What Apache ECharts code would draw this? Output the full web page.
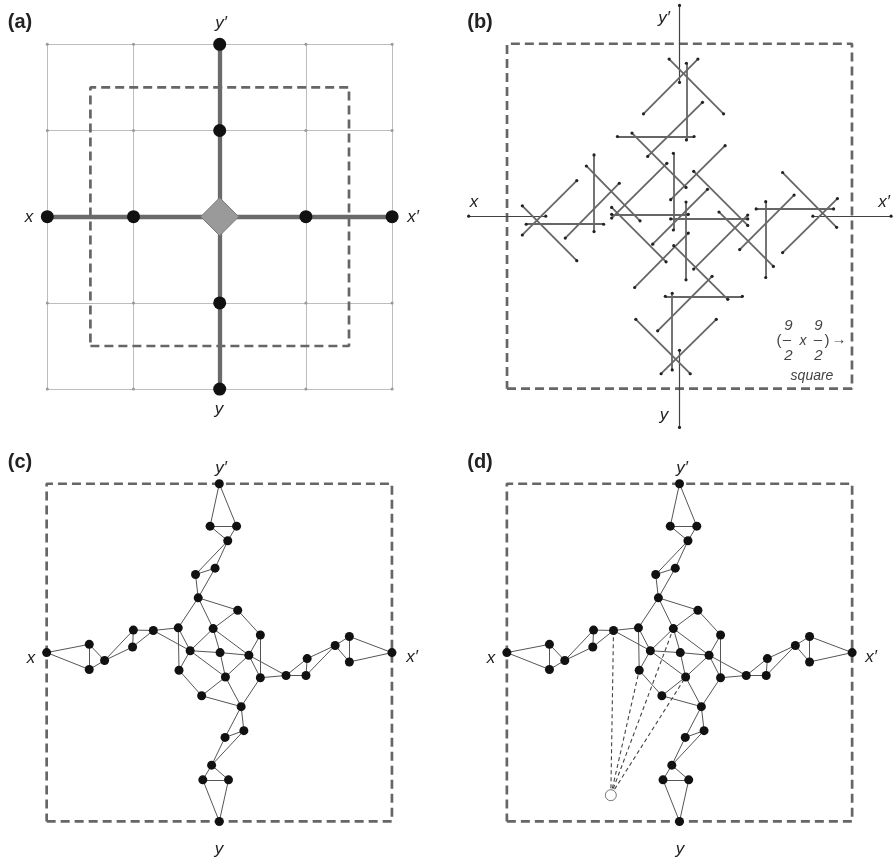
<!DOCTYPE html>
<html><head><meta charset="utf-8">
<script src="https://cdn.jsdelivr.net/npm/echarts@6/dist/echarts.min.js"></script>
<style>html,body{margin:0;padding:0;background:#fff}#main{width:893px;height:859px}</style>
</head><body><div id="main"></div><script>
// ---------- Panel (a): 4x4 grid, cross of nodes ----------
const gridTicksA = [-2, -1, 0, 1, 2];
const axisNodesA = [[-2,0],[-1,0],[1,0],[2,0],[0,2],[0,1],[0,-1],[0,-2]];
const hubA = [[0,0]];
const squareHalfA = 1.5;

// ---------- Panel (b): segments [x1,y1,x2,y2] ----------
const axisSegmentsB = [[-5.5,0,-3.49,0],[3.48,0,5.52,0],[0,5.5,0,3.49],[0,-3.5,0,-5.51]];
const leftSegmentsB = [
  [-4.10,0.27,-2.68,-1.16],[-4.10,-0.49,-2.68,0.93],[-4.0,-0.21,-1.98,-0.21],
  [-2.23,1.60,-2.23,-0.40],[-2.98,-0.57,-1.57,0.86],[-2.43,1.31,-1.03,-0.12]
];
const rightSegmentsB = [
  [2.69,1.14,4.10,-0.29],[2.69,-0.95,4.12,0.46],[2.0,0.19,4.02,0.19],
  [2.25,0.38,2.25,-1.6],[1.57,-0.87,2.99,0.55],[1.03,0.11,2.45,-1.31]
];
const topSegmentsB = [
  [-0.27,4.10,1.15,2.67],[-0.94,2.67,0.48,4.10],[0.18,3.99,0.18,1.99],
  [-1.62,2.08,0.38,2.08],[-0.83,1.56,0.6,2.97],[-1.24,2.17,0.17,0.75]
];
const bottomSegmentsB = [
  [-1.14,-2.69,0.28,-4.11],[-0.48,-4.11,0.96,-2.69],[-0.19,-2.01,-0.19,-4.01],
  [-0.37,-2.09,1.64,-2.09],[-0.57,-2.99,0.85,-1.57],[-0.15,-0.77,1.26,-2.17]
];
const centerSegmentsB = [
  [-0.16,1.64,-0.16,-0.36],[-1.77,0.05,0.23,0.05],[-1.77,-0.05,-0.33,1.38],
  [-1.77,0.23,-0.35,-1.19],[-0.23,-0.07,1.78,-0.07],[0.37,1.17,1.78,-0.24],
  [0.37,-1.38,1.78,0.03],[0.17,0.37,0.17,-1.66],[-0.70,-0.73,0.73,0.70],
  [-0.23,0.43,1.19,1.84],[-1.17,-1.86,0.23,-0.44]
];
const squareHalf = 4.5;

// ---------- Panels (c) and (d): graph ----------
const nodeIds = ['yp','P1','P2','A','B','C','D','E','F','G','H','I','J','K','L','M','N','O','Dp','Cp','Bp','Ap','Q1','Q2','y',
                 'x','L1','L2','L3','L4','L5','L6','xp','R1','R2','R3','R4','R5','R6'];
const nodeX = [0,-0.24,0.45,0.22,-0.62,-0.11,-0.55,0.48,-1.07,-0.16,1.07,-0.76,0.02,0.77,-1.05,0.16,1.07,-0.46,0.57,0.15,0.64,-0.2,-0.43,0.24,0,
               -4.5,-3.39,-3.39,-2.99,-2.24,-2.26,-1.72,4.5,3.39,3.39,3.02,2.29,2.26,1.74];
const nodeY = [4.5,3.37,3.37,2.98,2.08,2.25,1.46,1.13,0.66,0.64,0.47,0.05,0,-0.07,-0.47,-0.65,-0.67,-1.15,-1.44,-2.26,-2.08,-3.0,-3.39,-3.39,-4.5,
               0,0.22,-0.45,-0.21,0.6,0.15,0.59,0,0.43,-0.25,0.19,-0.16,-0.61,-0.61];
const edgeList = [
  ['yp','P1'],['yp','P2'],['P1','P2'],['P1','A'],['P2','A'],['A','B'],['A','C'],['B','C'],['B','D'],['C','D'],
  ['D','E'],['D','F'],['D','G'],['E','G'],['E','H'],['F','I'],['F','L'],['G','I'],['G','J'],['G','K'],['H','K'],['H','N'],
  ['I','J'],['I','L'],['I','M'],['J','K'],['J','M'],['K','M'],['K','N'],['K','R6'],['L','O'],['O','M'],['O','Dp'],['M','Dp'],['N','Dp'],['N','R6'],
  ['Dp','Cp'],['Dp','Bp'],['Bp','Cp'],['Ap','Cp'],['Ap','Bp'],['Ap','Q1'],['Ap','Q2'],['Q1','Q2'],['Q1','y'],['Q2','y'],
  ['x','L1'],['x','L2'],['L1','L2'],['L1','L3'],['L2','L3'],['L3','L4'],['L3','L5'],['L4','L5'],['L4','L6'],['L5','L6'],['L6','F'],['L6','I'],
  ['xp','R1'],['xp','R2'],['R1','R2'],['R3','R1'],['R3','R2'],['R3','R4'],['R3','R5'],['R4','R5'],['R4','R6'],['R5','R6']
];
const probePoint = [-1.79, -3.80];
const probeTargets = ['L6','L','G','M'];

// ---------- build ----------
const chart = echarts.init(document.getElementById('main'), null, {renderer:'canvas'});
const pos = {};
nodeIds.forEach((id,i)=>{ pos[id] = [nodeX[i], nodeY[i]]; });

const DASH_COLOR = '#666';
function squareSeries(idx, h){
  return {type:'line', xAxisIndex:idx, yAxisIndex:idx, symbol:'none', silent:true, clip:false,
    data:[[-h,-h],[h,-h],[h,h],[-h,h],[-h,-h]],
    lineStyle:{color:DASH_COLOR, width:2.7, type:[9,5]}, z:2};
}
function segLines(idx, segs, color, width, z){
  return {type:'lines', coordinateSystem:'cartesian2d', xAxisIndex:idx, yAxisIndex:idx, silent:true,
    data: segs.map(s=>({coords:[[s[0],s[1]],[s[2],s[3]]]})),
    lineStyle:{color:color, width:width, opacity:1}, z:z};
}
function dots(idx, pts, size, style, z, symbol){
  return {type:'scatter', xAxisIndex:idx, yAxisIndex:idx, data:pts, symbol:symbol||'circle', symbolSize:size, clip:false, silent:true,
    itemStyle:Object.assign({opacity:1}, style), z:z};
}
function segEndPts(segs){
  const pts=[]; segs.forEach(s=>{pts.push([s[0],s[1]]);pts.push([s[2],s[3]]);}); return pts;
}

const series = [];
// Panel a
const gridSegsA = [];
gridTicksA.forEach(t=>{ gridSegsA.push([t,-2,t,2]); gridSegsA.push([-2,t,2,t]); });
series.push(segLines(0, gridSegsA, '#bdbdbd', 1, 1));
const gridDotsA = [];
gridTicksA.forEach(a=>gridTicksA.forEach(b=>gridDotsA.push([a,b])));
series.push(dots(0, gridDotsA, 3, {color:'#999'}, 2));
series.push(squareSeries(0, squareHalfA));
series.push(segLines(0, [[-2,0,2,0],[0,-2,0,2]], '#6a6a6a', 4.3, 3));
series.push(dots(0, axisNodesA, 13, {color:'#111'}, 5));
series.push(dots(0, hubA, 38, {color:'#9a9a9a', borderColor:'#7a7a7a', borderWidth:1}, 5, 'diamond'));

// Panel b
series.push(squareSeries(1, squareHalf));
const allB = [].concat(leftSegmentsB,rightSegmentsB,topSegmentsB,bottomSegmentsB,centerSegmentsB);
series.push(segLines(1, axisSegmentsB, '#444', 1.2, 3));
series.push(segLines(1, allB, '#666', 1.8, 3));
series.push(dots(1, segEndPts(axisSegmentsB.concat(allB)), 3.2, {color:'#222'}, 6));

// Panels c, d
const edgeSegs = edgeList.map(e=>[pos[e[0]][0],pos[e[0]][1],pos[e[1]][0],pos[e[1]][1]]);
const nodePts = nodeIds.map(id=>pos[id]);
[2,3].forEach(idx=>{
  series.push(squareSeries(idx, squareHalf));
  series.push(segLines(idx, edgeSegs, '#555', 1, 3));
  series.push(dots(idx, nodePts, 9, {color:'#111'}, 5));
});
series.push({type:'lines', coordinateSystem:'cartesian2d', xAxisIndex:3, yAxisIndex:3, silent:true,
  data: probeTargets.map(t=>({coords:[probePoint, pos[t]]})),
  lineStyle:{color:'#444', width:1.1, type:[4,3], opacity:1}, z:3});
series.push(dots(3, [probePoint], 11, {color:'#fff', borderColor:'#777', borderWidth:1}, 6));

const grids = [
  {left:4.2, top:1.2, width:431, height:431},
  {left:468.7, top:5.4, width:421.6, height:421.6},
  {left:8.3, top:446.2, width:422, height:422},
  {left:468.5, top:446.2, width:422, height:422}
];
const ranges = [2.5, 5.5, 5.5, 5.5];
const xAxes = ranges.map((r,i)=>({type:'value', gridIndex:i, min:-r, max:r, show:false}));
const yAxes = ranges.map((r,i)=>({type:'value', gridIndex:i, min:-r, max:r, show:false}));

function txt(x,y,s,opt){
  return {type:'text', x:x, y:y, z:20, style:Object.assign({text:s, align:'center', verticalAlign:'middle',
    fill:'#222', font:'italic 17px "Liberation Sans", Arial, sans-serif'}, opt||{})};
}
const bold = {font:'bold 20px "Liberation Sans", Arial, sans-serif', fill:'#222'};
const small = {font:'italic 14px "Liberation Sans", Arial, sans-serif', fill:'#444'};
const digit = {font:'italic 15px "Liberation Sans", Arial, sans-serif', fill:'#444'};
const smallN = {font:'15px "Liberation Sans", Arial, sans-serif', fill:'#444'};
const graphic = [
  txt(20,22,'(a)',bold), txt(480,22,'(b)',bold), txt(20,462,'(c)',bold), txt(480,462,'(d)',bold),
  txt(221,23,'y\u2032'), txt(29,217,'x'), txt(413,217,'x\u2032'), txt(219,409,'y'),
  txt(664,18,'y\u2032'), txt(474,202,'x'), txt(884,202,'x\u2032'), txt(664,415,'y'),
  txt(221,468,'y\u2032'), txt(31,658,'x'), txt(412,657,'x\u2032'), txt(219,849,'y'),
  txt(682,468,'y\u2032'), txt(491,658,'x'), txt(871,657,'x\u2032'), txt(680,849,'y'),
  txt(788.5,326,'9',digit), txt(818.5,326,'9',digit),
  txt(779,341,'(',smallN), txt(787,340,'\u2013',smallN), txt(803,341,'x',small), txt(818,340,'\u2013',smallN),
  txt(827,341,')',smallN), txt(839,340,'\u2192',smallN),
  txt(788.5,356,'2',digit), txt(818.5,356,'2',digit),
  txt(812,376,'square',small)
];

chart.setOption({animation:false, backgroundColor:'#fff', grid:grids, xAxis:xAxes, yAxis:yAxes, series:series, graphic:graphic});
</script></body></html>
